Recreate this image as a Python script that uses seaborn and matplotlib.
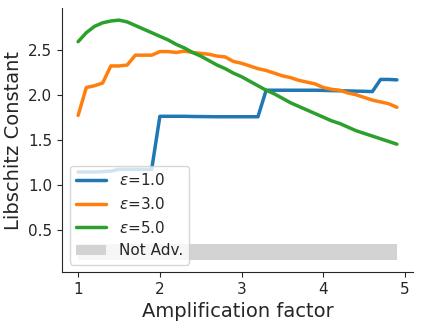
import numpy as np
import pandas as pd
import matplotlib
matplotlib.use("Agg")
import matplotlib.pyplot as plt
import seaborn as sns

amp = [round(1.0 + 0.1 * i, 1) for i in range(40)]

eps1 = [1.14, 1.14, 1.14, 1.145, 1.15, 1.17, 1.17, 1.17, 1.17, 1.17,
        1.76, 1.76, 1.76, 1.76, 1.758, 1.757, 1.756, 1.755, 1.755, 1.755,
        1.755, 1.755, 1.755, 2.05, 2.05, 2.05, 2.05, 2.05, 2.05, 2.05,
        2.048, 2.046, 2.044, 2.042, 2.04, 2.038, 2.035, 2.17, 2.17, 2.165]

eps3 = [1.77, 2.08, 2.10, 2.13, 2.32, 2.32, 2.33, 2.44, 2.44, 2.44,
        2.48, 2.48, 2.47, 2.485, 2.47, 2.46, 2.45, 2.43, 2.42, 2.37,
        2.35, 2.32, 2.29, 2.27, 2.24, 2.21, 2.19, 2.16, 2.14, 2.12,
        2.08, 2.06, 2.05, 2.02, 2.0, 1.97, 1.94, 1.92, 1.90, 1.86]

eps5 = [2.59, 2.69, 2.76, 2.80, 2.82, 2.83, 2.81, 2.77, 2.73, 2.69,
        2.65, 2.61, 2.56, 2.52, 2.47, 2.43, 2.38, 2.33, 2.29, 2.24,
        2.20, 2.15, 2.10, 2.05, 2.01, 1.96, 1.91, 1.87, 1.83, 1.79,
        1.75, 1.71, 1.68, 1.64, 1.60, 1.57, 1.54, 1.51, 1.48, 1.45]

eps_labels = [r"$\varepsilon$=1.0", r"$\varepsilon$=3.0", r"$\varepsilon$=5.0"]

not_adv_low = 0.16
not_adv_high = 0.34

df = pd.DataFrame({
    "amp": amp * 3,
    "lip": eps1 + eps3 + eps5,
    "eps": [eps_labels[0]] * 40 + [eps_labels[1]] * 40 + [eps_labels[2]] * 40,
})

sns.set_style("ticks")
fig, ax = plt.subplots(figsize=(4.23, 3.24), dpi=100)
fig.subplots_adjust(left=0.147, right=0.976, top=0.975, bottom=0.16)

sns.lineplot(data=df, x="amp", y="lip", hue="eps", palette="tab10",
             linewidth=2.5, ax=ax)
ax.fill_between(amp, not_adv_low, not_adv_high, color="lightgray",
                linewidth=0, label="Not Adv.")

ax.set_xlabel("Amplification factor", fontsize=14)
ax.set_ylabel("Libschitz Constant", fontsize=14)
ax.set_xticks([1, 2, 3, 4, 5])
ax.set_yticks([0.5, 1.0, 1.5, 2.0, 2.5])
ax.tick_params(labelsize=11)
sns.despine()

ax.legend(loc="lower left", fontsize=11, title=None)

plt.savefig("out.png", dpi=100)
